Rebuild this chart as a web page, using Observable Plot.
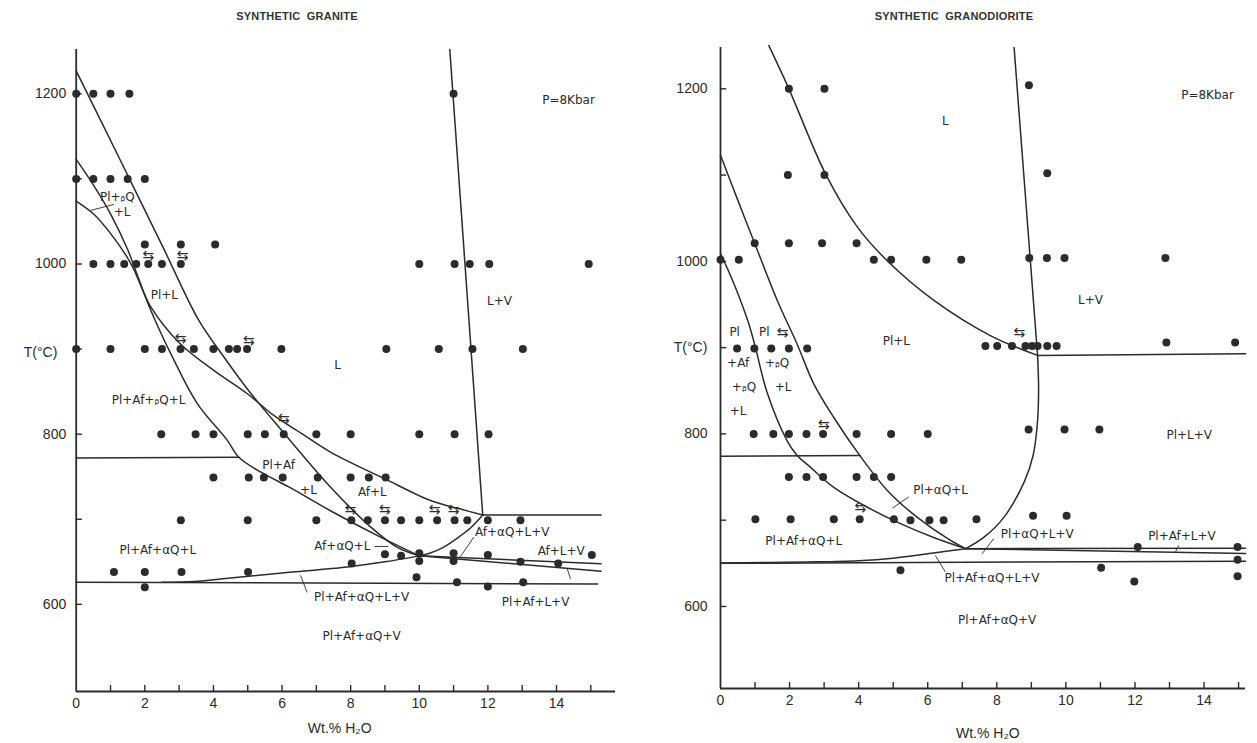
<!DOCTYPE html>
<html>
<head>
<meta charset="utf-8">
<script src="https://cdn.jsdelivr.net/npm/d3@7"></script>
<script src="https://cdn.jsdelivr.net/npm/@observablehq/plot@0.6"></script>
<style>
html,body{margin:0;padding:0;background:#fff;}
#wrap{position:relative;width:1257px;height:743px;overflow:hidden;background:#fff;}
.title{position:absolute;top:10px;width:400px;text-align:center;font-family:"Liberation Sans",Arial,sans-serif;font-size:11px;font-weight:bold;color:#333;letter-spacing:0.2px;}
.panel{position:absolute;top:40px;}
</style>
</head>
<body>
<div id="wrap">
  <div class="title" style="left:97px">SYNTHETIC&nbsp; GRANITE</div>
  <div class="title" style="left:754px">SYNTHETIC&nbsp; GRANODIORITE</div>
  <div class="panel" id="left" style="left:0px"></div>
  <div class="panel" id="right" style="left:640px"></div>
</div>
<script>
// ---------- axis ticks ----------
const xTickLabels = [0, 2, 4, 6, 8, 10, 12, 14];
const xMinorTicks = [1, 2, 3, 4, 5, 6, 7, 8, 9, 10, 11, 12, 13, 14, 15];
const yTickLabels = [600, 800, 1000, 1200];
const yMinorTicks = [600, 700, 800, 900, 1000, 1100, 1200];

// ---------- SYNTHETIC GRANITE (wt% H2O, T °C) ----------
const graniteRuns = [
  [0,1200],[0.5,1200],[1,1200],[1.55,1200],[11,1200],
  [0,1100],[0.5,1100],[1,1100],[1.5,1100],[2,1100],
  [2,1023],[3.05,1023],[4.05,1023],
  [0.5,1000],[1,1000],[1.4,1000],[1.75,1000],[2.1,1000],[2.5,1000],[3.05,1000],[10,1000],[11.03,1000],[11.47,1000],[12.04,1000],[14.94,1000],
  [0,900],[1,900],[2,900],[2.5,900],[3.04,900],[3.43,900],[4,900],[4.45,900],[4.69,900],[4.98,900],[5.98,900],[9.04,900],[10.57,900],[11.55,900],[13.02,900],
  [2.48,800],[3.48,800],[4,800],[5,800],[5.5,800],[6.05,800],[7,800],[8,800],[10,800],[11.03,800],[12.02,800],
  [4,749],[5.03,749],[5.47,749],[6.02,749],[7.04,749],[8,749],[8.53,749],[9.02,749],
  [3.05,699],[5,699],[7,699],[8.02,699],[8.5,699],[9,699],[9.47,699],[10,699],[10.52,699],[11.03,699],[11.4,699],[12,699],[12.95,699],
  [8.03,648],[9,659],[9.47,657],[10,660],[10,651],[11,660],[11,651],[12,658],[12.95,650],[14.05,648],[15.03,658],
  [1.1,638],[2,638],[3.07,638],[5.01,638],[2,620],[9.92,632],[11.1,626],[12,621],[13.03,626]
];
const graniteReversals = [[2.1,1010],[3.1,1010],[3.04,913],[5.03,910],[6.05,818],[8.0,712],[9.0,712],[10.45,712],[11.0,712]];
const granitePlagioclaseOut = [[0,1227],[1.2,1129],[2.55,1018],[3.57,934],[4.3,891],[5.03,851],[6.0,804],[7.41,738],[8.58,691],[9.36,667],[10.0,657]];
const graniteQuartzIn = [[0,1123],[0.5,1093],[1.0,1059],[1.5,1017],[1.7,996],[2.17,946],[2.85,887],[3.53,836],[4.4,793],[4.74,773],[5.4,755],[6.2,738],[7.41,710],[8.87,679],[10.0,657]];
const graniteFeldsparIn = [[0,1074],[0.5,1059],[1.0,1036],[1.5,1007],[1.7,992],[2.17,950],[3.04,906],[4.01,875],[4.99,847.5],[5.76,822],[6.6,800],[7.41,779],[8.97,748],[10.33,722],[11.2,712],[11.85,705]];
const graniteVaporIn = [[10.0,657],[10.3,660],[10.7,667],[11.15,679],[11.5,690],[11.85,705]];
const graniteSolidusDry = [[2.5,626],[3.43,627],[4.5,631],[6.0,637],[7.9,644],[9.0,650],[10.0,657]];
const graniteWaterSaturation = [[10.89,1252],[11.85,705]];
const graniteLiquidVapor = [[11.85,705],[15.3,705]];
const graniteQuartzTransition = [[0,772],[4.74,773]];
const graniteSubsolidus = [[0,626],[15.2,624]];
const graniteUpperFan = [[10.0,657],[15.3,647.7]];
const graniteLowerFan = [[10.0,657],[15.3,639]];
const graniteFields = [
  {t:"Pl+ᵦQ", x:1.2, y:1079}, {t:"+L", x:1.34, y:1061},
  {t:"Pl+L", x:2.57, y:963}, {t:"L", x:7.62, y:881}, {t:"L+V", x:12.34, y:956},
  {t:"Pl+Af+ᵦQ+L", x:2.11, y:840}, {t:"Pl+Af", x:5.9, y:764}, {t:"+L", x:6.77, y:734},
  {t:"Af+L", x:8.63, y:732}, {t:"Pl+Af+αQ+L", x:2.38, y:664}, {t:"Af+αQ+L", x:7.76, y:669},
  {t:"Af+αQ+L+V", x:12.71, y:685}, {t:"Af+L+V", x:14.14, y:662}, {t:"Pl+Af+L+V", x:13.39, y:603},
  {t:"Pl+Af+αQ+L+V", x:8.32, y:608}, {t:"Pl+Af+αQ+V", x:8.32, y:563}, {t:"P=8Kbar", x:14.35, y:1192}
];
const graniteLeaders = [[0.42,1063,1.1,1070],[8.7,668,9.1,668],[11.59,679,11.2,656],[14.41,630,14.31,642],[6.73,614,6.54,634]];

// ---------- SYNTHETIC GRANODIORITE ----------
const granodioriteRuns = [
  [1.98,1200],[3.01,1200],[8.93,1204],
  [1.95,1100],[3.01,1100],[9.46,1102],
  [0.99,1021],[1.98,1021],[2.94,1021],[3.94,1021],
  [0,1002],[0.53,1002],[4.44,1002],[4.94,1002],[5.96,1002],[6.97,1002],[8.94,1004],[9.45,1004],[9.96,1004],[12.88,1004],
  [0.48,899],[0.98,899],[1.47,899],[1.98,899],[2.51,899],[7.67,902],[8.01,902],[8.44,902],[8.83,902],[9.02,902],[9.18,902],[9.46,902],[9.73,902],[12.91,906],[14.9,906],
  [0.96,800],[1.53,800],[1.98,800],[2.49,800],[2.97,800],[3.94,800],[4.94,800],[6.0,800],[8.92,805],[9.96,805],[10.97,805],
  [1.98,750],[2.49,750],[2.97,750],[3.94,750],[4.44,750],[4.94,750],
  [1.01,701],[2.03,701],[3.28,701],[4.03,701],[5.02,701],[5.5,700],[6.05,700],[6.46,700],[7.41,701],[9.05,705],[10.02,705],
  [5.21,642],[11.02,645],[11.98,629],[12.08,669],[14.97,669],[14.97,654],[14.97,635]
];
const granodioriteReversals = [[1.8,918],[8.65,917],[2.99,811],[4.05,715]];
const granodioritePlagioclaseLiquidus = [[1.40,1250],[1.98,1200],[3.04,1101.5],[3.96,1040],[4.82,1001],[6.17,955],[7.81,914],[9.18,891]];
const granodioriteWaterSaturation = [[8.5,1248],[9.18,891]];
const granodioriteLiquidVapor = [[9.18,891],[15.2,893]];
const granodioriteVaporIn = [[9.18,891],[9.21,850],[9.17,810],[9.05,775],[8.8,745],[8.2,703],[7.62,680],[7.1,667]];
const granodioriteQuartzIn = [[0,1123],[0.5,1071],[0.96,1024],[1.64,955],[2.22,904],[2.7,858],[3.28,819],[4.05,774],[4.83,734.5],[5.69,703.5],[6.66,676.5],[7.1,667]];
const granodioriteFeldsparIn = [[0,1009],[0.38,975],[0.8,930],[1.0,902],[1.35,848],[1.93,792],[2.22,775],[2.6,761.5],[3.28,738],[4.25,715],[5.21,696],[6.17,680],[7.1,667]];
const granodioriteQuartzTransition = [[0,774],[4.05,775]];
const granodioriteSubsolidus = [[0,650],[15.2,652.5]];
const granodioriteSolidusDry = [[0,650.5],[2.5,651.5],[4.0,653],[5.0,656],[6.17,662],[7.1,667]];
const granodioriteUpperFan = [[7.1,667],[15.2,667.5]];
const granodioriteLowerFan = [[7.1,667],[15.2,661.5]];
const granodioriteFields = [
  {t:"L", x:6.51, y:1163}, {t:"L+V", x:10.71, y:955}, {t:"Pl+L", x:5.09, y:908},
  {t:"Pl", x:0.41, y:918}, {t:"Pl", x:1.27, y:918},
  {t:"+Af", x:0.51, y:882}, {t:"+ᵦQ", x:0.68, y:854}, {t:"+L", x:0.51, y:826},
  {t:"+ᵦQ", x:1.64, y:882}, {t:"+L", x:1.81, y:854},
  {t:"Pl+L+V", x:13.57, y:799}, {t:"Pl+αQ+L", x:6.37, y:735}, {t:"Pl+αQ+L+V", x:9.17, y:684},
  {t:"Pl+Af+L+V", x:13.36, y:682}, {t:"Pl+Af+αQ+L+V", x:7.86, y:633}, {t:"Pl+Af+αQ+V", x:8.01, y:584},
  {t:"Pl+Af+αQ+L", x:2.41, y:676}, {t:"P=8Kbar", x:14.1, y:1193}
];
const granodioriteLeaders = [[4.98,714,5.45,727],[7.91,678.5,7.57,661],[13.27,671,13.17,663],[6.51,640,6.22,659]];

// ---------- drawing ----------
const ink = "#2b2b2b";
const labelFont = '"DejaVu Sans", "Liberation Sans", sans-serif';

function panel(c) {
  const tickLenT = 7, tickLenW = 0.18;
  const line = (pts, curve) => Plot.line(pts, {x: d => d[0], y: d => d[1], curve, stroke: ink, strokeWidth: 1.5});
  return Plot.plot({
    width: c.width, height: 700,
    marginLeft: c.ml, marginRight: c.mr, marginTop: c.mt, marginBottom: c.mb,
    x: {domain: [0, c.xMax], ticks: xTickLabels, tickSize: 0, tickPadding: 7, tickFormat: d => String(d), label: null},
    y: {domain: [c.yMin, c.yMax], ticks: yTickLabels, tickSize: 0, tickPadding: c.yPad, tickFormat: d => String(d), label: null},
    style: {fontFamily: '"Liberation Sans", Arial, sans-serif', fontSize: "14px", color: ink, background: "#fff", overflow: "visible"},
    marks: [
      Plot.ruleX([0], {y1: c.yMin, y2: c.yMax, stroke: ink, strokeWidth: 1.8}),
      Plot.ruleY([c.yMin], {x1: 0, x2: c.xMax, stroke: ink, strokeWidth: 1.8}),
      Plot.ruleX(xMinorTicks.filter(t => t <= c.xMax), {x: d => d, y1: c.yMin, y2: c.yMin + tickLenT, stroke: ink, strokeWidth: 1.4}),
      Plot.ruleY(yMinorTicks, {y: d => d, x1: 0, x2: tickLenW, stroke: ink, strokeWidth: 1.4}),
      ...c.curved.map(p => line(p, "catmull-rom")),
      ...c.straight.map(p => line(p, "linear")),
      Plot.link(c.leaders, {x1: d => d[0], y1: d => d[1], x2: d => d[2], y2: d => d[3], stroke: ink, strokeWidth: 0.9}),
      Plot.dot(c.runs, {x: d => d[0], y: d => d[1], r: 4, fill: ink}),
      Plot.text(c.reversals, {x: d => d[0], y: d => d[1], text: () => "⇆", fontSize: 14, fill: ink, fontFamily: labelFont}),
      Plot.text(c.fields, {x: "x", y: "y", text: "t", fontSize: 12, fill: ink, fontFamily: labelFont}),
      Plot.text(["T(°C)"], {frameAnchor: "left", textAnchor: "middle", y: c.tY, dx: c.tDx, fontSize: 14, fill: ink}),
      Plot.text(["Wt.% H₂O"], {x: c.wX, y: c.yMin, dy: c.wDy, textAnchor: "middle", fontSize: 14, fill: ink})
    ]
  });
}

const left = panel({
  width: 640, ml: 75.7, mr: 25, mt: 9, mb: 49, xMax: 15.72, yMin: 497.6, yMax: 1252.1, yPad: 10,
  curved: [granitePlagioclaseOut, graniteQuartzIn, graniteFeldsparIn, graniteVaporIn, graniteSolidusDry],
  straight: [graniteWaterSaturation, graniteLiquidVapor, graniteQuartzTransition, graniteSubsolidus, graniteUpperFan, graniteLowerFan],
  leaders: graniteLeaders, runs: graniteRuns, reversals: graniteReversals, fields: graniteFields,
  tY: 896, tDx: -35.7, wX: 7.68, wDy: 37
});
const right = panel({
  width: 617, ml: 80, mr: 12, mt: 7, mb: 52, xMax: 15.2, yMin: 504.9, yMax: 1247.9, yPad: 13,
  curved: [granodioritePlagioclaseLiquidus, granodioriteVaporIn, granodioriteQuartzIn, granodioriteFeldsparIn, granodioriteSolidusDry],
  straight: [granodioriteWaterSaturation, granodioriteLiquidVapor, granodioriteQuartzTransition, granodioriteSubsolidus, granodioriteUpperFan, granodioriteLowerFan],
  leaders: granodioriteLeaders, runs: granodioriteRuns, reversals: granodioriteReversals, fields: granodioriteFields,
  tY: 900, tDx: -30, wX: 7.74, wDy: 45
});
document.getElementById("left").appendChild(left);
document.getElementById("right").appendChild(right);
</script>
</body>
</html>
